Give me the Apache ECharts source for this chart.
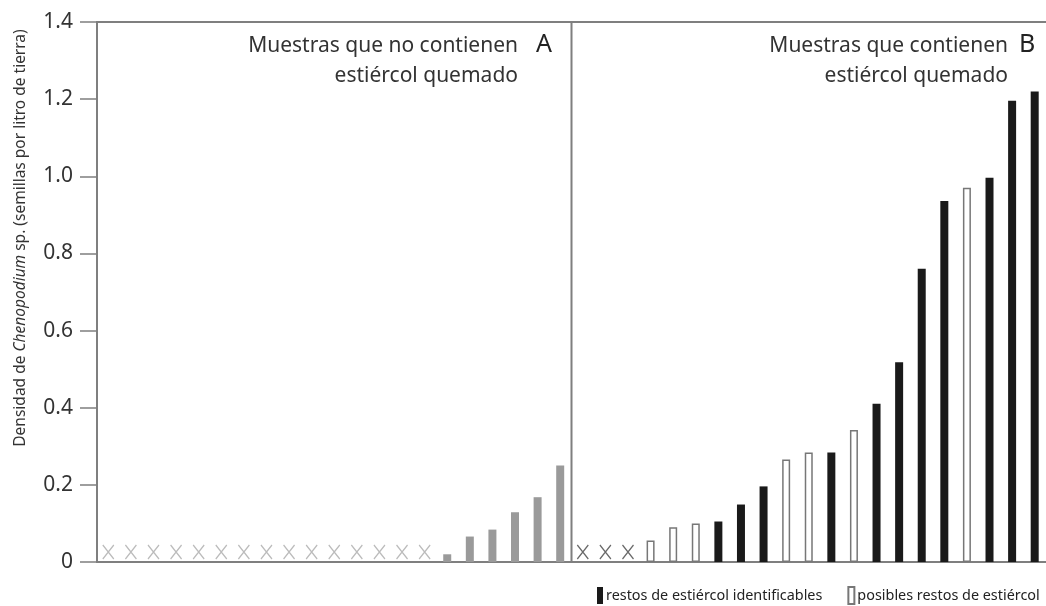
<!DOCTYPE html>
<html>
<head>
<meta charset="utf-8">
<script src="https://cdn.jsdelivr.net/npm/echarts@6/dist/echarts.min.js"></script>
<style>html,body{margin:0;padding:0;background:#fff;}#c{width:1046px;height:606px;}</style>
</head>
<body>
<div id="c"></div>
<script>
// 'x' = sample with no Chenopodium seeds
const panelA = ['x','x','x','x','x','x','x','x','x','x','x','x','x','x','x',0.02,0.066,0.084,0.129,0.168,0.25];
const panelB = ['x','x','x',0.056,0.09,0.10,0.105,0.149,0.196,0.266,0.284,0.284,0.342,0.41,0.518,0.76,0.936,0.97,0.996,1.196,1.22];
// b = restos identificables (negro), o = posibles restos (blanco)
const typeB = ['','','','o','o','o','b','b','b','o','o','b','o','b','b','b','b','o','b','b','b'];
const yTicks = [0,0.2,0.4,0.6,0.8,1.0,1.2,1.4];
const nameBlack = 'restos de estiércol identificables';
const nameOpen = 'posibles restos de estiércol';
const labelA = ['Muestras que no contienen','estiércol quemado','A'];
const labelB = ['Muestras que contienen','estiércol quemado','B'];
const yName = 'Densidad de {it|Chenopodium} sp. (semillas por litro de tierra)';

const nA = panelA.length, nB = panelB.length;
const categories = panelA.map((_, i) => 'A' + (i + 1)).concat(panelB.map((_, i) => 'B' + (i + 1)));
const grayData = categories.map((_, i) => (i < nA && typeof panelA[i] === 'number') ? panelA[i] : null);
const blackData = categories.map((_, i) => (i >= nA && typeB[i - nA] === 'b') ? panelB[i - nA] : null);
const openData = categories.map((_, i) => (i >= nA && typeB[i - nA] === 'o') ? panelB[i - nA] : null);
const xA = []; panelA.forEach((v, i) => { if (v === 'x') xA.push([categories[i], 0]); });
const xB = []; panelB.forEach((v, i) => { if (v === 'x') xB.push([categories[nA + i], 0]); });

const axisColor = '#7f7f7f';
const FONT = 'Noto Sans';
const chart = echarts.init(document.getElementById('c'), null, {renderer: 'canvas'});
const X_PATH = 'path://M0,0L10,10M10,0L0,10';

chart.setOption({
  animation: false,
  backgroundColor: '#fff',
  textStyle: {fontFamily: FONT},
  grid: {left: 97, top: 22, width: 953, bottom: 44, containLabel: false},
  legend: {
    left: 597, top: 586, padding: 0, itemWidth: 6, itemHeight: 17, itemGap: 25,
    icon: 'rect', width: 470,
    textStyle: {fontFamily: FONT, fontSize: 14.4, color: '#222', padding: [3, 0, 0, -2]},
    data: [nameBlack, nameOpen]
  },
  xAxis: [{
    type: 'category', data: categories, boundaryGap: true,
    axisLine: {show: true, lineStyle: {color: axisColor, width: 2}},
    axisTick: {show: false}, axisLabel: {show: false}, splitLine: {show: false}
  }, {
    type: 'category', data: categories, position: 'top',
    axisLine: {show: true, lineStyle: {color: axisColor, width: 2}},
    axisTick: {show: false}, axisLabel: {show: false}, splitLine: {show: false}
  }],
  yAxis: {
    type: 'value', min: 0, max: 1.4, interval: 0.2,
    axisLine: {show: true, lineStyle: {color: axisColor, width: 2}},
    axisTick: {show: true, length: 17, lineStyle: {color: axisColor, width: 1.5}},
    axisLabel: {margin: 24, fontSize: 21, color: '#333', fontFamily: FONT,
      formatter: (v) => yTicks.indexOf(+v.toFixed(1)) === 0 ? '0' : (+v).toFixed(1)},
    splitLine: {show: false}
  },
  series: [
    {type: 'bar', name: 'A', data: grayData, barWidth: 8, barGap: '-100%',
     itemStyle: {color: '#9a9a9a'}},
    {type: 'bar', name: nameBlack, data: blackData, barWidth: 8, barGap: '-100%',
     itemStyle: {color: '#1a1a1a'}},
    {type: 'bar', name: nameOpen, data: openData, barWidth: 8, barGap: '-100%',
     itemStyle: {color: '#ffffff', borderColor: '#777', borderWidth: 1.5}},
    {type: 'scatter', data: xA, symbol: X_PATH, symbolSize: [11, 14], symbolOffset: [0, -10],
     itemStyle: {color: 'rgba(0,0,0,0)', borderColor: '#aaaaaa', borderWidth: 1.5}, z: 5},
    {type: 'scatter', data: xB, symbol: X_PATH, symbolSize: [11, 14], symbolOffset: [0, -10],
     itemStyle: {color: 'rgba(0,0,0,0)', borderColor: '#444444', borderWidth: 1.5}, z: 5},
    {type: 'custom', silent: true, z: 4, data: [[nA, 1.4]],
     renderItem: (params, api) => {
       const top = api.coord([api.value(0), 1.4]);
       const bot = api.coord([api.value(0), 0]);
       const half = api.size([1, 0])[0] / 2;
       const x = top[0] - half;
       return {type: 'line', shape: {x1: x, y1: top[1], x2: x, y2: bot[1]},
               style: {stroke: axisColor, lineWidth: 2}};
     }}
  ],
  graphic: [
    {type: 'text', x: 21, y: 238, rotation: Math.PI / 2,
     style: {text: yName, fontFamily: FONT, fontSize: 15.5, fill: '#333', align: 'center', verticalAlign: 'middle',
       rich: {it: {fontStyle: 'italic', fontFamily: FONT, fontSize: 15.5, fill: '#333'}}}},
    {type: 'text', x: 518, y: 46, style: {text: labelA[0], fontFamily: FONT, fontSize: 21, fill: '#333', align: 'right', verticalAlign: 'middle'}},
    {type: 'text', x: 518, y: 76, style: {text: labelA[1], fontFamily: FONT, fontSize: 21, fill: '#333', align: 'right', verticalAlign: 'middle'}},
    {type: 'text', x: 544, y: 45, style: {text: labelA[2], fontFamily: FONT, fontSize: 25, fill: '#222', align: 'center', verticalAlign: 'middle'}},
    {type: 'text', x: 1008, y: 46, style: {text: labelB[0], fontFamily: FONT, fontSize: 21, fill: '#333', align: 'right', verticalAlign: 'middle'}},
    {type: 'text', x: 1008, y: 76, style: {text: labelB[1], fontFamily: FONT, fontSize: 21, fill: '#333', align: 'right', verticalAlign: 'middle'}},
    {type: 'text', x: 1027, y: 45, style: {text: labelB[2], fontFamily: FONT, fontSize: 25, fill: '#222', align: 'center', verticalAlign: 'middle'}}
  ]
});
</script>
</body>
</html>
